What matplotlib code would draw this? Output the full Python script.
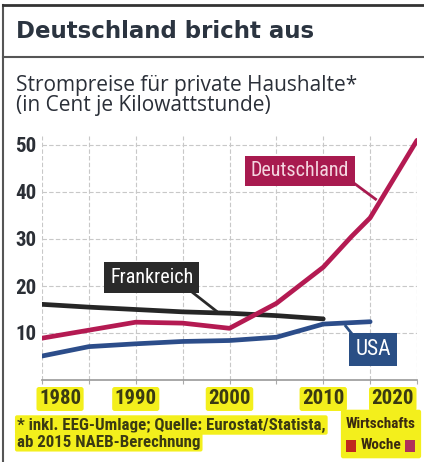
import matplotlib.pyplot as plt
from matplotlib.patches import FancyBboxPatch, Rectangle
from matplotlib.lines import Line2D

# Daten (Cent je kWh)
jahre_de = [1980, 1985, 1990, 1995, 2000, 2005, 2010, 2013, 2015, 2020]
deutschland = [8.9, 10.6, 12.3, 12.1, 11.0, 16.3, 24.0, 30.5, 34.5, 51.0]

jahre_fr = [1980, 1985, 1990, 1995, 2000, 2005, 2010]
frankreich = [16.1, 15.5, 15.0, 14.5, 14.2, 13.7, 13.0]

jahre_us = [1980, 1985, 1990, 1995, 2000, 2005, 2010, 2015]
usa = [5.1, 7.1, 7.7, 8.2, 8.4, 9.1, 11.9, 12.4]

xticks = [1980, 1990, 2000, 2010, 2020]
yticks = [10, 20, 30, 40, 50]

NARROW = ['Liberation Sans Narrow', 'Roboto Condensed', 'DejaVu Sans']

W, H = 424, 462
fig = plt.figure(figsize=(W / 100, H / 100), dpi=100)
fig.patch.set_facecolor('white')

def px(x, y):
    return x / W, 1 - y / H

# Rahmen
fig.add_artist(Line2D([3 / W, 3 / W], [0, 1 - 5 / H], color='#555555', lw=1.5))
fig.add_artist(Line2D([3 / W, 1], [1 - 5 / H, 1 - 5 / H], color='#333333', lw=2))
fig.add_artist(Line2D([3 / W, 1], [1 - 57 / H, 1 - 57 / H], color='#555555', lw=1.5))

# Titel
fig.text(*px(16, 32), 'Deutschland bricht aus', fontsize=16.5, fontweight='bold',
         color='#2b3440', va='center', ha='left', family=['DejaVu Sans'])
fig.text(*px(16, 86), 'Strompreise für private Haushalte*', fontsize=15,
         color='#2a2f38', va='center', ha='left', family=['Open Sans', 'DejaVu Sans'])
fig.text(*px(16, 106), '(in Cent je Kilowattstunde)', fontsize=15,
         color='#2a2f38', va='center', ha='left', family=['Open Sans', 'DejaVu Sans'])

# Achsen
y0, ymax = 380, 52
top = y0 - ymax * 4.7
ax = fig.add_axes([42 / W, (H - y0) / H, 375 / W, (y0 - top) / H])
ax.set_xlim(1980, 2020)
ax.set_ylim(0, ymax)
for s in ['top', 'right', 'left']:
    ax.spines[s].set_visible(False)
ax.spines['bottom'].set_color('#999999')
ax.spines['bottom'].set_linewidth(1.2)

ax.set_xticks(range(1980, 2021, 5))
ax.set_xticklabels([])
ax.tick_params(axis='x', length=3, color='#aaaaaa')
ax.set_yticks(yticks)
ax.set_yticklabels([str(v) for v in yticks], fontsize=15, fontweight='bold',
                   color='#2b2f36', family=NARROW)
ax.tick_params(axis='y', length=0, pad=4)
ax.grid(True, color='#c8c8c8', linestyle=(0, (4, 2)), linewidth=0.8)
ax.set_axisbelow(True)

ax.plot(jahre_fr, frankreich, color='#262626', lw=3.4, solid_capstyle='round', zorder=3)
ax.plot(jahre_us, usa, color='#2c4d8a', lw=3.4, solid_capstyle='round', zorder=3)
ax.plot(jahre_de, deutschland, color='#b41a52', lw=3.4, solid_capstyle='round', zorder=4)

# Beschriftungen mit Zeiger
def label(text, xy_txt, zeiger, fc, tc, size):
    ax.plot(zeiger[0], zeiger[1], color=fc, lw=2, zorder=5, solid_capstyle='butt')
    ax.text(*xy_txt, text, fontsize=size, color=tc, ha='center', va='center',
            family=NARROW, zorder=6,
            bbox=dict(boxstyle='square,pad=0.28', fc=fc, ec='none'))

label('Deutschland', (2007.5, 44.5), ([2013.2, 2015.7], [42.0, 38.3]),
      '#a81a4f', '#f4d6e0', 14.5)
label('Frankreich', (1991.7, 21.8), ([1995.5, 1998.7], [19.5, 14.5]),
      '#2a2a2a', 'white', 14.5)
label('USA', (2015.3, 6.4), ([2012.3, 2013.8], [11.7, 8.0]),
      '#2a4f85', 'white', 15.5)

# x-Beschriftungen gelb markiert
for j in xticks:
    xp = 42 + (j - 1980) / 40 * 375
    ha = 'center'
    if j == 1980:
        xp, ha = 39, 'left'
    elif j == 2020:
        xp, ha = 414, 'right'
    fig.text(*px(xp, 399), str(j), ha=ha, va='center',
             fontsize=15, fontweight='bold', color='#3a3a12', family=NARROW,
             bbox=dict(boxstyle='round,pad=0.12', fc='#f3ef1c', ec='none'))

# Fussnote
fig.text(*px(17, 425), '* inkl. EEG-Umlage; Quelle: Eurostat/Statista,', fontsize=12.2,
         fontweight='bold', color='#3a3a12', va='center', ha='left', family=NARROW,
         bbox=dict(boxstyle='round,pad=0.12', fc='#f3ef1c', ec='none'))
fig.text(*px(17, 442), 'ab 2015 NAEB-Berechnung', fontsize=12.2,
         fontweight='bold', color='#3a3a12', va='center', ha='left', family=NARROW,
         bbox=dict(boxstyle='round,pad=0.12', fc='#f3ef1c', ec='none'))

# Logo
fig.add_artist(FancyBboxPatch(px(343, 456), 76 / W, 44 / H,
                              boxstyle='round,pad=0.005', fc='#f3ef1c', ec='none'))
fig.text(*px(381, 424), 'Wirtschafts', fontsize=11, fontweight='bold', color='#3a2a10',
         ha='center', va='center', family=NARROW)
fig.text(*px(381, 445), 'Woche', fontsize=11, fontweight='bold', color='#3a2a10',
         ha='center', va='center', family=NARROW)
fig.add_artist(Rectangle(px(346, 452), 10 / W, 12 / H, fc='#c0281e', ec='none'))
fig.add_artist(Rectangle(px(405, 452), 10 / W, 12 / H, fc='#b0305a', ec='none'))

fig.savefig('out.png', dpi=100)
